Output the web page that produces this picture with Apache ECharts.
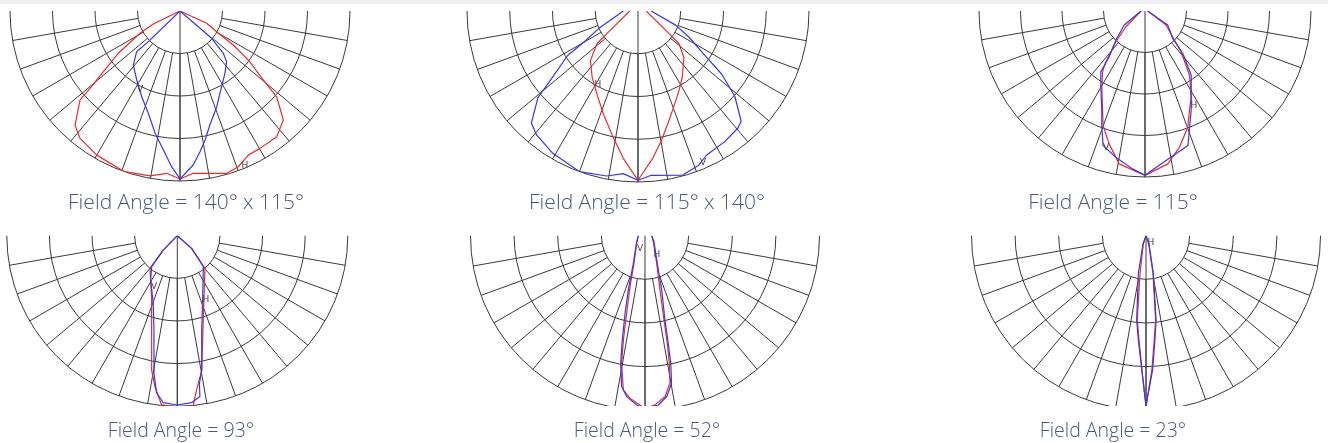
<!DOCTYPE html>
<html><head><meta charset="utf-8">
<script src="https://cdn.jsdelivr.net/npm/echarts@6/dist/echarts.min.js"></script>
<style>html,body{margin:0;padding:0;background:#fff}#c{width:1328px;height:443px}</style>
</head><body><div id="c"></div>
<script>
// ---- data: [angle from nadir (deg, left negative), relative intensity (0..100)] ----
const captions = ['Field Angle = 140° x 115°','Field Angle = 115° x 140°','Field Angle = 115°',
                  'Field Angle = 93°','Field Angle = 52°','Field Angle = 23°'];
const H1 = [[-90,0],[-64,17.5],[-60.9,26.9],[-55.6,44],[-51.6,57.5],[-49.3,69.8],[-48.3,78.8],[-42.6,91.2],[-38.2,95.2],[-30,97.9],[-19.4,100],[-10.3,98.6],[-4.7,95.8],[0,98.8],[4.7,95.8],[16,99.4],[20.5,97.8],[25.4,93.8],[30.2,93.5],[37.6,93.3],[43.5,88.3],[48.4,76],[50.4,63.6],[54.3,49.5],[57.5,37.2],[59.8,26.1],[65.3,17.3],[90,0]];
const V1 = [[-90,0],[-45.9,25.9],[-46.8,35],[-40.8,42],[-32.1,47.9],[-24.1,55.2],[-17.2,63],[-11.5,73.4],[-6.8,82.4],[-3.1,91.7],[0,98.8],[4.9,90.9],[8.1,83.6],[11,77.3],[14.7,69.3],[21,60.3],[28.8,50.8],[35.8,45.2],[42.6,40.5],[45.7,35.6],[49.2,24.6],[90,0]];
const H2 = [[-90,4.8],[-54,22.5],[-51.4,30.7],[-43.8,40.2],[-34.6,47.2],[-26.2,54.3],[-18.4,63.8],[-10.9,75.7],[-5.7,86.6],[0,99],[5.7,86.6],[10,77.5],[14.5,68.7],[18.9,61.9],[27.1,52.5],[33.6,46.7],[44.8,38.1],[51.4,30.7],[54,22.5],[90,4.8]];
const V2 = [[-90,8.6],[-65.9,25.2],[-60.1,36.4],[-57.7,48.7],[-51.9,64.5],[-49.1,77.4],[-43.6,90.4],[-39.4,93.6],[-30.9,97],[-20.1,100],[-10.7,98.2],[-5.2,95.5],[0,99],[4.6,96.4],[15.1,99.5],[21.5,96.9],[25.5,93.3],[33.6,91.7],[40.5,90],[43.1,88.3],[48.7,75.3],[53,61.2],[56.4,47.1],[62.9,33.4],[69.4,23.5],[90,7.7]];
const H3 = [[-90,2.4],[-50.5,14.9],[-43.4,25.5],[-37.6,38.7],[-34.9,44.7],[-29.6,52.6],[-23.9,63.3],[-20.1,73.4],[-15.1,82.9],[-9.6,93.4],[0,99],[8.5,93.1],[14.2,84.6],[20.2,74.6],[24.1,65.6],[28.2,58.8],[34.7,47.1],[41.5,32.8],[45.3,24.9],[56.3,15.3],[90,1.6]];
const V3 = [[-90,2.4],[-55.9,15.1],[-45,24.8],[-38,35],[-36,45.3],[-30.2,52.9],[-23.5,65.3],[-20.4,74.6],[-17.3,84.9],[-11.3,89.8],[-4.5,95.4],[0,99],[8,91],[17.7,85.1],[24.9,66],[35.7,47.7],[41.7,34.3],[45.3,23.5],[58.3,16.1],[90,1.6]];
const H4 = [[-90,0],[-44.3,11.8],[-39.9,25],[-22.8,38.9],[-15.2,57.4],[-10.8,80.3],[-8.4,89.6],[-5.3,99.7],[0,100.5],[5.4,99.9],[7.1,91.3],[10.3,80.2],[23.6,39.1],[40.3,25.1],[48.5,11.2],[90,0]];
const V4 = [[-90,0],[-44.3,11.8],[-39.6,23.6],[-31,30.4],[-19.5,42.2],[-13.9,57],[-9.6,82],[-7.5,93],[-4.8,98.3],[0,99.3],[4.9,98.3],[8,95.3],[8.5,87.7],[10.3,80.2],[14.5,57.2],[22.6,38.8],[40,23.8],[48.5,11.2],[90,0]];
const H5 = [[-90,3.8],[-47.4,6.5],[-21.7,17],[-16.4,30.4],[-13.3,45.7],[-11.7,61],[-10.4,74.3],[-8,89.2],[-5.3,93.5],[-1.7,97],[0,99],[3.4,97.1],[7.1,92.9],[9.6,85.7],[10.8,74.4],[11.7,63],[12.7,49.5],[15.4,32.3],[22.9,17.2],[54.2,5.9],[90,3.8]];
const V5 = [[-90,3.8],[-54.2,5.9],[-22.9,17.2],[-17.1,32.5],[-14.4,45.9],[-12.3,61.1],[-10.8,74.4],[-8.8,87.5],[-6.5,92.8],[-2.8,97.1],[0,99],[4.5,97.3],[7.7,93],[10.2,85.9],[11.4,74.6],[12.2,63.1],[13.3,49.6],[17.1,32.5],[24,17.3],[56.3,6.2],[90,3.8]];
const H6 = [[-90,0],[-18,5],[-9,21.9],[-5.9,48.6],[-3.8,60],[-1.7,77],[0,97.5],[2.5,77],[4.5,60],[6.5,48.7],[10.5,22],[18,5],[90,0]];
const V6 = [[-90,0],[-20,5],[-11.5,22],[-6.3,48.6],[-4.2,59.9],[-1.8,77],[0,97.5],[2.8,77.1],[4.9,60],[6.8,48.7],[11,22],[20,5],[90,0]];
const hCurves = [H1,H2,H3,H4,H5,H6];
const vCurves = [V1,V2,V3,V4,V5,V6];
const spokeStep = 10;      // degrees between spokes
const ringCount = 3;       // rings outside the inner hole
const intensityMax = 100;

// ---- layout ----
const panels = [
  {cx:180,  cy:11,    R:170,   capX:186,  capY:203.5, fs:21},
  {cx:638,  cy:11,    R:171,   capX:647,  capY:203.5, fs:21},
  {cx:1145, cy:11,    R:166,   capX:1113, capY:203.5, fs:21},
  {cx:177.3,cy:235.7, R:170.5, capX:181,  capY:431,   fs:19.5},
  {cx:645,  cy:235.7, R:174.5, capX:647,  capY:431,   fs:19.5},
  {cx:1146, cy:235.7, R:174.5, capX:1113, capY:431,   fs:19.5}
];
const labels = [
  {t:'V',x:140,y:90},{t:'H',x:245,y:166},
  {t:'H',x:598,y:85},{t:'V',x:703,y:163},
  {t:'H',x:1194,y:106},{t:'V',x:1106,y:148},
  {t:'V',x:154,y:287},{t:'H',x:206,y:300},
  {t:'V',x:640,y:249},{t:'H',x:657,y:255},
  {t:'H',x:1151,y:243}
];
const GRID = '#3a3a3a', RED = '#ee2a2a', BLUE = '#3535f0';
const nSpokes = 180/spokeStep + 1;
const spokeColors = Array.from({length:nSpokes},(_,i)=> (i===0||i===nSpokes-1)?'rgba(0,0,0,0)':GRID);

const polar = [], angleAxis = [], radiusAxis = [], series = [];
panels.forEach((p,i)=>{
  const gi = polar.length;
  polar.push({center:[p.cx,p.cy], radius:[p.R/4, p.R]});
  angleAxis.push({polarIndex:gi,type:'value',min:-90,max:90,interval:spokeStep,startAngle:180,endAngle:360,clockwise:false,
    axisLine:{show:false},axisTick:{show:false},axisLabel:{show:false},
    splitLine:{show:true,lineStyle:{color:spokeColors,width:1}}});
  radiusAxis.push({polarIndex:gi,type:'value',min:0,max:ringCount,interval:1,
    axisLine:{show:false},axisTick:{show:false},axisLabel:{show:false},
    splitLine:{show:true,lineStyle:{color:GRID,width:1}}});
  const di = polar.length;
  polar.push({center:[p.cx,p.cy], radius:[0, p.R]});
  angleAxis.push({polarIndex:di,type:'value',min:-90,max:90,interval:90,startAngle:180,endAngle:360,clockwise:false,
    axisLine:{show:false},axisTick:{show:false},axisLabel:{show:false},
    splitLine:{show:true,lineStyle:{color:['rgba(0,0,0,0)',GRID,'rgba(0,0,0,0)'],width:1}}});
  radiusAxis.push({polarIndex:di,type:'value',min:0,max:intensityMax,
    axisLine:{show:false},axisTick:{show:false},axisLabel:{show:false},splitLine:{show:false}});
  series.push({type:'line',coordinateSystem:'polar',polarIndex:di,showSymbol:false,clip:false,silent:true,
    data:hCurves[i].map(d=>[d[1],d[0]]),lineStyle:{color:RED,width:1.2},z:3});
  series.push({type:'line',coordinateSystem:'polar',polarIndex:di,showSymbol:false,clip:false,silent:true,
    data:vCurves[i].map(d=>[d[1],d[0]]),lineStyle:{color:BLUE,width:1.2},z:4});
});

const graphic = [
  {type:'rect',shape:{x:0,y:0,width:1328,height:4},style:{fill:'#eceeef'},z:100},
  {type:'rect',shape:{x:0,y:406,width:1328,height:14},style:{fill:'#fff'},z:100}
];
panels.forEach((p,i)=>graphic.push({type:'text',x:p.capX,y:p.capY,z:101,
  style:{text:captions[i],fill:'#48587f',font:'300 '+p.fs+'px "Open Sans"',textAlign:'center',textVerticalAlign:'middle',align:'center',verticalAlign:'middle'}}));
labels.forEach(l=>graphic.push({type:'text',x:l.x,y:l.y,z:101,
  style:{text:l.t,fill:'#444',font:'9px "DejaVu Sans"',textAlign:'center',textVerticalAlign:'middle',align:'center',verticalAlign:'middle'}}));

const chart = echarts.init(document.getElementById('c'),null,{renderer:'canvas'});
chart.setOption({animation:false,backgroundColor:'#fff',polar,angleAxis,radiusAxis,series,graphic});
</script></body></html>
